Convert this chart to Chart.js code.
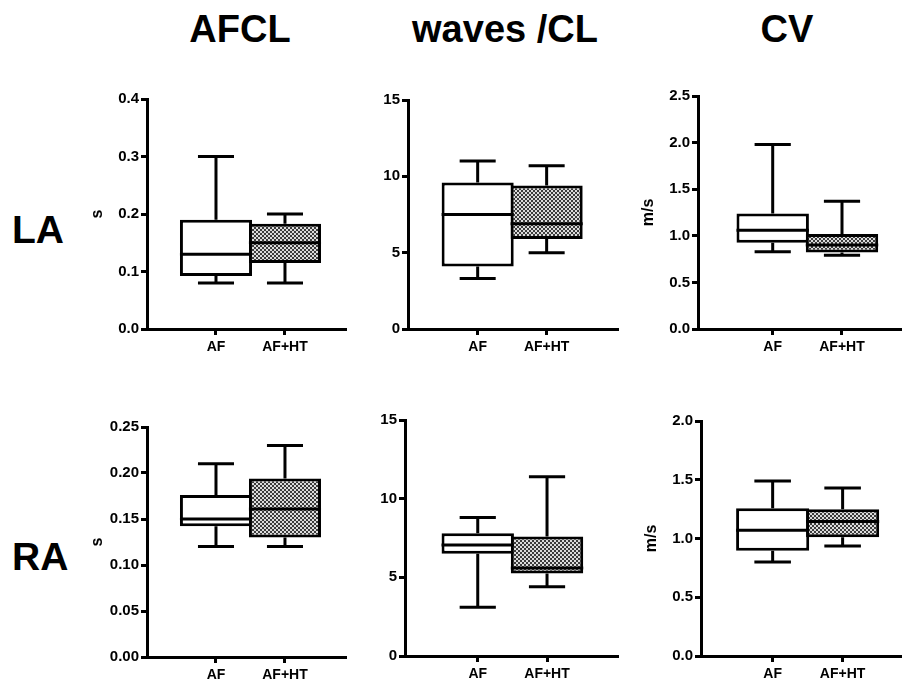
<!DOCTYPE html>
<html>
<head>
<meta charset="utf-8">
<script src="https://cdn.jsdelivr.net/npm/chart.js@4"></script>
<style>
  body { margin: 0; background: #fff; width: 905px; height: 684px; position: relative; overflow: hidden; }
  canvas { position: absolute; }
  .col { position: absolute; top: 10px; font: bold 38px 'Liberation Sans', Arial, sans-serif; line-height: 38px; transform: translateX(-50%); white-space: nowrap; color: #000; }
  .row { position: absolute; left: 12px; font: bold 39px 'Liberation Sans', Arial, sans-serif; line-height: 39px; color: #000; }
</style>
</head>
<body>
<div class="col" style="left:240px">AFCL</div>
<div class="col" style="left:505px">waves /CL</div>
<div class="col" style="left:787px">CV</div>
<div class="row" style="top:210px">LA</div>
<div class="row" style="top:537px">RA</div>
<script>
// each box: [min, q1, median, q3, max]
const groups = ['AF', 'AF+HT'];

const LA_AFCL_AF = [0.08, 0.092, 0.13, 0.19, 0.30];
const LA_AFCL_HT = [0.08, 0.115, 0.15, 0.183, 0.20];
const LA_WAVES_AF = [3.3, 4.1, 7.5, 9.6, 11.0];
const LA_WAVES_HT = [5.0, 5.9, 6.9, 9.4, 10.7];
const LA_CV_AF = [0.83, 0.925, 1.06, 1.24, 1.98];
const LA_CV_HT = [0.79, 0.82, 0.90, 1.02, 1.37];

const RA_AFCL_AF = [0.12, 0.142, 0.15, 0.176, 0.21];
const RA_AFCL_HT = [0.12, 0.13, 0.161, 0.194, 0.23];
const RA_WAVES_AF = [3.1, 6.5, 7.05, 7.8, 8.8];
const RA_WAVES_HT = [4.4, 5.25, 5.6, 7.6, 11.4];
const RA_CV_AF = [0.80, 0.895, 1.07, 1.257, 1.49];
const RA_CV_HT = [0.937, 1.01, 1.145, 1.25, 1.43];

Chart.defaults.color = '#000';
Chart.defaults.font.family = "'Liberation Sans', Arial, sans-serif";
Chart.defaults.font.weight = 'bold';

// checkered fill used for the AF+HT boxes
function makePattern() {
  const c = document.createElement('canvas');
  c.width = 4; c.height = 4;
  const g = c.getContext('2d');
  g.fillStyle = '#dcdcdc';
  g.fillRect(0, 0, 4, 4);
  g.fillStyle = '#3c3c3c';
  g.fillRect(0, 0, 2, 2);
  g.fillRect(2, 2, 2, 2);
  return g.createPattern(c, 'repeat');
}
const checker = makePattern();

// whiskers + median on top of the floating bars
const whiskers = {
  id: 'whiskers',
  afterDatasetsDraw(chart) {
    const ctx = chart.ctx;
    const y = chart.scales.y;
    const stats = chart.data.datasets[0].stats;
    chart.getDatasetMeta(0).data.forEach((bar, i) => {
      const [mn, q1, med, q3, mx] = stats[i];
      const half = bar.width / 2;
      const cap = bar.width / 4;
      ctx.save();
      ctx.strokeStyle = '#000';
      ctx.lineWidth = 3;
      ctx.beginPath();
      ctx.moveTo(bar.x, y.getPixelForValue(q3));
      ctx.lineTo(bar.x, y.getPixelForValue(mx));
      ctx.moveTo(bar.x - cap, y.getPixelForValue(mx));
      ctx.lineTo(bar.x + cap, y.getPixelForValue(mx));
      ctx.moveTo(bar.x, y.getPixelForValue(q1));
      ctx.lineTo(bar.x, y.getPixelForValue(mn));
      ctx.moveTo(bar.x - cap, y.getPixelForValue(mn));
      ctx.lineTo(bar.x + cap, y.getPixelForValue(mn));
      ctx.moveTo(bar.x - half, y.getPixelForValue(med));
      ctx.lineTo(bar.x + half, y.getPixelForValue(med));
      ctx.stroke();
      ctx.restore();
    });
  }
};

const Y_W = 63, X_H = 30, PAD_T = 14, PAD_R = 5;

const panels = [
  { stats: [LA_AFCL_AF, LA_AFCL_HT], yMax: 0.4, step: 0.1, dec: 1, unit: 's', area: [147, 99, 345, 329], xr: [0, 2.87] },
  { stats: [LA_WAVES_AF, LA_WAVES_HT], yMax: 15, step: 5, dec: 0, unit: '', area: [408, 100, 617, 329], xr: [-0.01, 3.02] },
  { stats: [LA_CV_AF, LA_CV_HT], yMax: 2.5, step: 0.5, dec: 1, unit: 'm/s', area: [698, 96, 900, 329], xr: [-0.078, 2.837] },
  { stats: [RA_AFCL_AF, RA_AFCL_HT], yMax: 0.25, step: 0.05, dec: 2, unit: 's', area: [147, 427, 345, 657], xr: [0, 2.87] },
  { stats: [RA_WAVES_AF, RA_WAVES_HT], yMax: 15, step: 5, dec: 0, unit: '', area: [405, 420, 617, 656], xr: [-0.05, 3.01] },
  { stats: [RA_CV_AF, RA_CV_HT], yMax: 2.0, step: 0.5, dec: 1, unit: 'm/s', area: [701, 421, 900, 656], xr: [-0.024, 2.82] }
];

panels.forEach(p => {
  const [l, t, r, b] = p.area;
  const cv = document.createElement('canvas');
  cv.width = r - l + Y_W + PAD_R;
  cv.height = b - t + PAD_T + X_H;
  cv.style.left = (l - Y_W) + 'px';
  cv.style.top = (t - PAD_T) + 'px';
  document.body.appendChild(cv);

  new Chart(cv, {
    type: 'bar',
    data: {
      datasets: [{
        data: groups.map((g, i) => ({ x: i + 1, y: [p.stats[i][1], p.stats[i][3]] })),
        stats: p.stats,
        backgroundColor: ['#fff', checker],
        borderColor: '#000',
        borderWidth: 3,
        borderSkipped: false,
        categoryPercentage: 1,
        barPercentage: 1.045   // boxes share their middle edge
      }]
    },
    options: {
      responsive: false,
      animation: false,
      layout: { padding: { top: PAD_T, right: PAD_R, left: 0, bottom: 0 } },
      plugins: { legend: { display: false }, tooltip: { enabled: false } },
      scales: {
        x: {
          type: 'linear',
          offset: false,
          min: p.xr[0], max: p.xr[1],
          afterBuildTicks: s => { s.ticks = [{ value: 1 }, { value: 2 }]; },
          afterFit: s => { s.height = X_H; },
          ticks: { callback: v => groups[v - 1], font: { size: 14, weight: 'bold' }, padding: 4, maxRotation: 0 },
          grid: { offset: false, drawOnChartArea: false, tickLength: 6, lineWidth: 3, color: '#000' },
          border: { color: '#000', width: 3 }
        },
        y: {
          min: 0, max: p.yMax,
          afterFit: s => { s.width = Y_W; },
          ticks: { stepSize: p.step, callback: v => v.toFixed(p.dec), font: { size: 15, weight: 'bold' }, padding: 2 },
          grid: { drawOnChartArea: false, tickLength: 6, lineWidth: 3, color: '#000' },
          border: { color: '#000', width: 3 },
          title: { display: p.unit !== '', text: p.unit, font: { size: 16, weight: 'bold' } }
        }
      }
    },
    plugins: [whiskers]
  });
});
</script>
</body>
</html>
